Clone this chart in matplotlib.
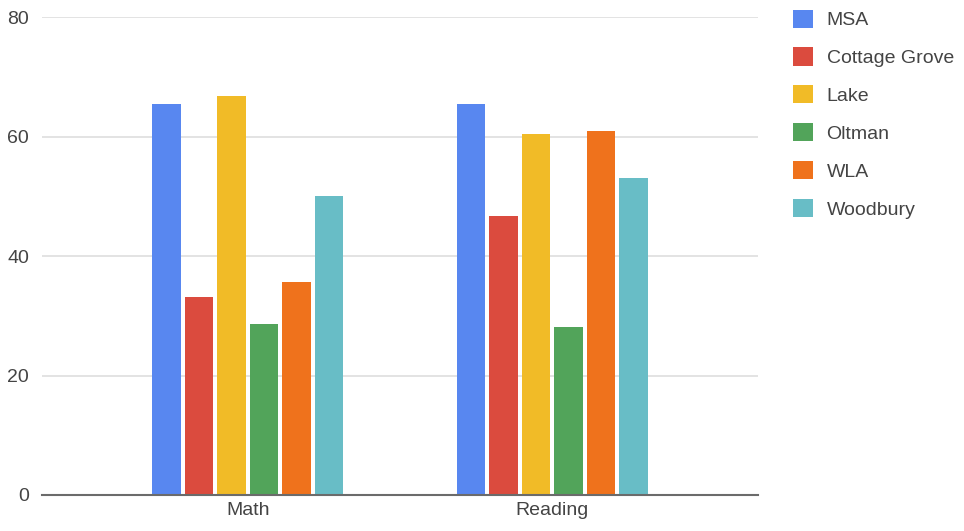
import numpy as np
import matplotlib.pyplot as plt
from matplotlib.patches import Patch

plt.rcParams["font.family"] = ["Liberation Sans", "DejaVu Sans"]

# Data
subjects = ["Math", "Reading"]
schools = ["MSA", "Cottage Grove", "Lake", "Oltman", "WLA", "Woodbury"]
msa = [65.4, 65.4]
cottage_grove = [33.1, 46.7]
lake = [66.8, 60.5]
oltman = [28.7, 28.2]
wla = [35.7, 61.0]
woodbury = [50.0, 53.1]
series = [msa, cottage_grove, lake, oltman, wla, woodbury]
colors = ["#5887f0", "#db4b3e", "#f1bb27", "#52a45a", "#ef721c", "#68bdc6"]

fig = plt.figure(figsize=(9.64, 5.31), dpi=100)
ax = fig.add_axes([0.0433, 0.0678, 0.7434, 0.8996])

x = np.arange(len(subjects))
step = 0.1067
width = 0.0943
for i, (vals, col) in enumerate(zip(series, colors)):
    ax.bar(x + (i - 2.5) * step, vals, width, color=col, zorder=3)

ax.set_xlim(-0.677, 1.677)
ax.set_ylim(0, 80)
ax.set_yticks([0, 20, 40, 60, 80])
ax.set_xticks(x)
ax.set_xticklabels(subjects)
ax.grid(axis="y", color="#dedede", linewidth=1.2, zorder=0)
for s in ["top", "right", "left"]:
    ax.spines[s].set_visible(False)
ax.spines["bottom"].set_color("#6b6b6b")
ax.spines["bottom"].set_linewidth(1.5)
ax.spines["bottom"].set_zorder(4)
ax.tick_params(axis="both", length=0, labelsize=14, colors="#444444")
ax.tick_params(axis="y", pad=9)
ax.tick_params(axis="x", pad=5)

handles = [Patch(facecolor=c, edgecolor="none") for c in colors]
fig.legend(handles, schools, loc="upper left", bbox_to_anchor=(0.804, 1.015),
           frameon=False, fontsize=14, labelcolor="#444444",
           handlelength=1.05, handleheight=1.05, handletextpad=0.7,
           labelspacing=0.94)

fig.savefig("out.png", dpi=100)
plt.close(fig)
